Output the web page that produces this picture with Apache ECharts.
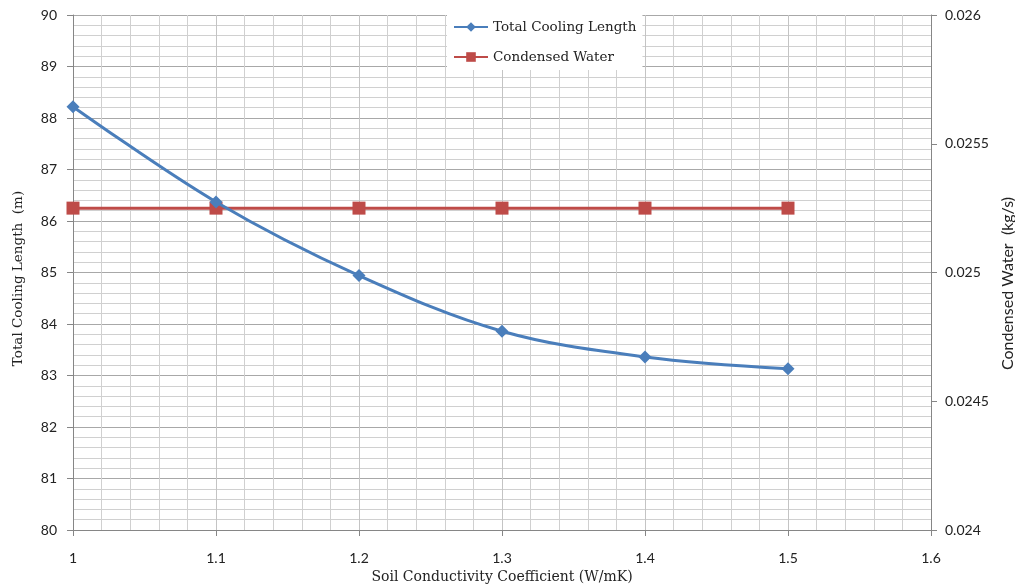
<!DOCTYPE html>
<html><head><meta charset="utf-8">
<script src="https://cdn.jsdelivr.net/npm/echarts@6/dist/echarts.min.js"></script>
<style>html,body{margin:0;padding:0;background:#fff}#c{width:1015px;height:587px}</style>
</head><body><div id="c"></div>
<script>
const xValues = [1.0, 1.1, 1.2, 1.3, 1.4, 1.5];
const coolingLength = [88.22, 86.37, 84.94, 83.86, 83.36, 83.13];
const condensedWater = [0.02525, 0.02525, 0.02525, 0.02525, 0.02525, 0.02525];
const seriesNames = ['Total Cooling Length', 'Condensed Water'];
const axisNames = ['Soil Conductivity Coefficient (W/mK)', 'Total Cooling Length  (m)', 'Condensed Water  (kg/s)'];

const sans = 'Lato, "Open Sans", sans-serif';
const serif = '"DejaVu Serif", serif';
const chart = echarts.init(document.getElementById('c'));
chart.setOption({
  animation: false,
  backgroundColor: '#fff',
  grid: {left: 73, right: 84, top: 15, bottom: 57, outerBoundsMode: 'none'},
  legend: {
    orient: 'vertical', left: 447, top: 14, itemGap: 16,
    itemWidth: 34, itemHeight: 12,
    backgroundColor: '#fff', padding: [6, 6, 6, 6],
    textStyle: {fontFamily: serif, fontSize: 13.5, color: '#222'},
    data: seriesNames
  },
  xAxis: {
    type: 'value', min: 1, max: 1.6, interval: 0.1,
    name: axisNames[0], nameLocation: 'middle', nameGap: 39,
    nameTextStyle: {fontFamily: serif, fontSize: 14, color: '#222'},
    axisLine: {show: true, lineStyle: {color: '#868686'}},
    axisTick: {show: true, length: 6, lineStyle: {color: '#868686'}},
    axisLabel: {fontFamily: sans, fontSize: 14, color: '#222', margin: 21,
      formatter: v => String(Math.round(v * 10) / 10)},
    splitLine: {show: true, lineStyle: {color: '#c4c4c4', width: 1}},
    minorTick: {show: false, splitNumber: 5},
    minorSplitLine: {show: true, lineStyle: {color: '#d0d0d0', width: 1}}
  },
  yAxis: [{
    type: 'value', min: 80, max: 90, interval: 1,
    name: axisNames[1], nameLocation: 'middle', nameGap: 48, nameRotate: 90,
    nameTextStyle: {fontFamily: serif, fontSize: 13.5, color: '#222', padding: [0, 12, 0, 0]},
    axisLine: {show: true, lineStyle: {color: '#868686'}},
    axisTick: {show: true, length: 6, lineStyle: {color: '#868686'}},
    axisLabel: {fontFamily: sans, fontSize: 14, color: '#222', margin: 16},
    splitLine: {show: true, lineStyle: {color: '#a8a8a8', width: 1}},
    minorTick: {show: false, splitNumber: 5},
    minorSplitLine: {show: true, lineStyle: {color: '#d0d0d0', width: 1}}
  }, {
    type: 'value', min: 0.024, max: 0.026, interval: 0.0005, position: 'right',
    name: axisNames[2], nameLocation: 'middle', nameGap: 57, nameRotate: 90,
    nameTextStyle: {fontFamily: sans, fontSize: 16, color: '#222', padding: [0, 22, 0, 0]},
    axisLine: {show: true, lineStyle: {color: '#868686'}},
    axisTick: {show: true, length: 6, lineStyle: {color: '#868686'}},
    axisLabel: {fontFamily: sans, fontSize: 14, color: '#222', margin: 14,
      formatter: v => String(Math.round(v * 10000) / 10000)},
    splitLine: {show: false}
  }],
  series: [{
    name: seriesNames[0], type: 'line', yAxisIndex: 0, smooth: 0.35,
    data: xValues.map((x, i) => [x, coolingLength[i]]),
    symbol: 'diamond', symbolSize: 13,
    lineStyle: {color: '#4a7ebb', width: 3},
    itemStyle: {color: '#4a7ebb'}, z: 3
  }, {
    name: seriesNames[1], type: 'line', yAxisIndex: 1,
    data: xValues.map((x, i) => [x, condensedWater[i]]),
    symbol: 'rect', symbolSize: 13,
    lineStyle: {color: '#be4b48', width: 3},
    itemStyle: {color: '#be4b48'}, z: 2
  }]
});
</script></body></html>
